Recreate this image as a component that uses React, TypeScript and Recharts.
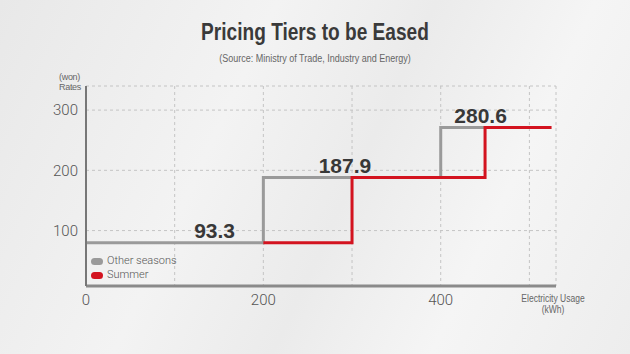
import React from 'react';
import { LineChart, Line, XAxis, YAxis, CartesianGrid, ReferenceDot } from 'recharts';

// usage breakpoints (kWh)
const usage = [0, 200, 300, 400, 450, 525];
// rates as drawn in the graphic (won)
const otherSeasons = [80, 188, 188, 271, 271, null];
const summer = [null, 80, 188, 188, 271, 271];

// tier labels
const tierLabels = ['93.3', '187.9', '280.6'];
const tierLabelUsage = [145, 292, 445];
const tierLabelLevel = [80, 188, 271];

const xTicks = [0, 100, 200, 300, 400, 500];
const xTickLabels = ['0', '', '200', '', '400', ''];
const yTicks = [100, 200, 300];

const GRAY = '#9a9a9a';
const RED = '#d3131f';
const FONT = '"Liberation Sans", Arial, sans-serif';
const THIN = 'Roboto, "Liberation Sans", sans-serif';

const data = usage.map((u, i) => ({ usage: u, other: otherSeasons[i], summer: summer[i] }));

const App: React.FC = () => {
  return (
    <div
      style={{
        position: 'absolute',
        left: 0,
        top: 0,
        width: 630,
        height: 354,
        overflow: 'hidden',
        fontFamily: FONT,
        background: 'linear-gradient(115deg, #e8e8e8 0%, #f3f3f3 35%, #ebebeb 55%, #f5f5f5 75%, #ededed 100%)',
      }}
    >
      <div style={{ position: 'absolute', top: 19, width: 630, textAlign: 'center', fontSize: 23, fontWeight: 700, color: '#3a3a3a', transform: 'scaleX(0.83)' }}>
        Pricing Tiers to be Eased
      </div>
      <div style={{ position: 'absolute', top: 53, width: 630, textAlign: 'center', fontSize: 10, color: '#666', transform: 'scaleX(0.9)' }}>
        (Source: Ministry of Trade, Industry and Energy)
      </div>
      <div style={{ position: 'absolute', left: 59, top: 72, fontSize: 9, lineHeight: '10px', color: '#666', letterSpacing: -0.3 }}>
        (won)<br />Rates
      </div>
      <div style={{ position: 'absolute', left: 508, top: 293, width: 90, textAlign: 'center', fontSize: 10, lineHeight: '11px', color: '#666', whiteSpace: 'nowrap', transform: 'scaleX(0.85)' }}>
        Electricity Usage<br />(kWh)
      </div>

      <LineChart width={630} height={354} data={data} margin={{ top: 86, right: 74, left: 0, bottom: 38 }}>
        <CartesianGrid stroke="#c4c4c4" strokeDasharray="3 3" />
        <XAxis
          dataKey="usage"
          type="number"
          domain={[0, 530]}
          ticks={xTicks}
          tickFormatter={(v, i) => xTickLabels[i]}
          tickLine={false}
          axisLine={{ stroke: '#8a8a8a', strokeWidth: 3 }}
          tick={{ fill: '#555', fontSize: 15, fontWeight: 300, fontFamily: THIN }}
          height={30}
          tickMargin={2}
        />
        <YAxis
          type="number"
          domain={[8, 340]}
          ticks={yTicks}
          width={86}
          tickLine={false}
          axisLine={{ stroke: '#777', strokeWidth: 2 }}
          tick={{ fill: '#555', fontSize: 15, fontWeight: 300, fontFamily: THIN }}
          tickMargin={2}
        />
        <Line type="stepAfter" dataKey="other" stroke={GRAY} strokeWidth={3} dot={false} isAnimationActive={false} />
        <Line type="stepAfter" dataKey="summer" stroke={RED} strokeWidth={3} dot={false} isAnimationActive={false} />
        {tierLabels.map((t, i) => (
          <ReferenceDot
            key={t}
            x={tierLabelUsage[i]}
            y={tierLabelLevel[i]}
            r={0}
            fill="none"
            stroke="none"
            ifOverflow="visible"
            label={{ value: t, position: 'top', offset: 5, fill: '#383838', fontSize: 21, fontWeight: 700, fontFamily: FONT }}
          />
        ))}
      </LineChart>

      <div style={{ position: 'absolute', left: 91, top: 254, fontSize: 11, lineHeight: '14px', color: '#555', fontFamily: THIN, fontWeight: 300 }}>
        <div style={{ display: 'flex', alignItems: 'center' }}>
          <span style={{ display: 'inline-block', width: 12, height: 7, borderRadius: 4, background: GRAY, marginRight: 4 }} />
          Other seasons
        </div>
        <div style={{ display: 'flex', alignItems: 'center' }}>
          <span style={{ display: 'inline-block', width: 12, height: 7, borderRadius: 4, background: RED, marginRight: 4 }} />
          Summer
        </div>
      </div>
    </div>
  );
};

export default App;
